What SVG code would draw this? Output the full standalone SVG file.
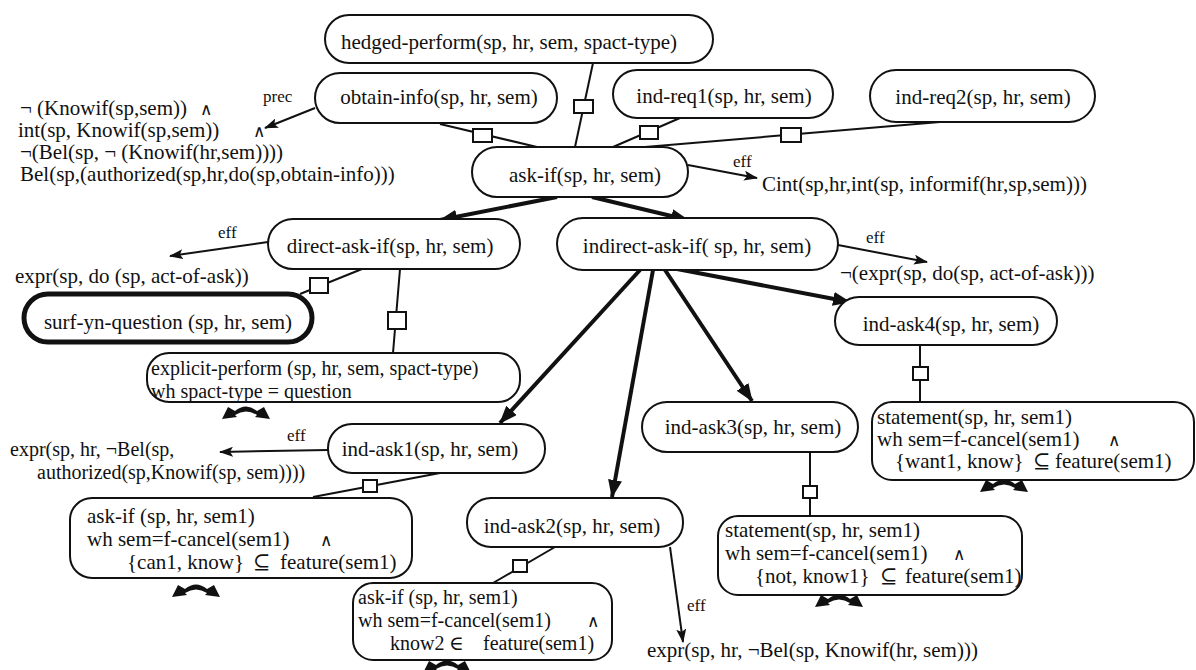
<svg xmlns="http://www.w3.org/2000/svg" width="1196" height="670" viewBox="0 0 1196 670">
<style>
text{font-family:"Liberation Serif","DejaVu Serif",serif;font-size:21px;fill:#111}
.c{text-anchor:middle}
.lbl{font-size:17px}
.sm{font-size:20px}
.op{font-family:"DejaVu Sans",sans-serif;font-size:17px;font-weight:normal}
.box{fill:#fff;stroke:#111;stroke-width:2}
.bold{stroke-width:5}
.ln{fill:none;stroke:#111;stroke-width:2}
.thick{fill:none;stroke:#111;stroke-width:4;marker-end:url(#ah)}
.thin{fill:none;stroke:#111;stroke-width:2;marker-end:url(#ahs)}
.sq{fill:#fff;stroke:#111;stroke-width:2}
</style>
<defs>
<marker id="ah" viewBox="0 0 18 14" refX="17" refY="7" markerWidth="18" markerHeight="14" markerUnits="userSpaceOnUse" orient="auto"><path d="M0,0 L18,7 L0,14 z" fill="#111"/></marker>
<marker id="ahs" viewBox="0 0 14 10" refX="13" refY="5" markerWidth="14" markerHeight="10" markerUnits="userSpaceOnUse" orient="auto"><path d="M0,0 L14,5 L0,10 L3,5 z" fill="#111"/></marker>
<path id="bow" d="M0,14 L6,2 L13,6 Q24,-3 35,6 L42,2 L48,14 L33,12 L35,10 Q24,3 13,10 L15,12 Z" fill="#111"/>
</defs>
<rect width="1196" height="670" fill="#fff"/>

<g id="connectors">
<line class="ln" x1="593" y1="63" x2="575" y2="147"/>
<rect class="sq" x="574" y="100" width="19" height="13"/>
<line class="ln" x1="440" y1="124" x2="537" y2="147"/>
<rect class="sq" x="473" y="129" width="19" height="13"/>
<line class="ln" x1="680" y1="118" x2="613" y2="147"/>
<rect class="sq" x="640" y="126" width="18" height="13"/>
<line class="ln" x1="940" y1="122" x2="633" y2="148"/>
<rect class="sq" x="781" y="128" width="20" height="14"/>
<line class="thick" x1="557" y1="197" x2="440" y2="220"/>
<line class="thick" x1="592" y1="197" x2="688" y2="220"/>
<line class="thin" x1="688" y1="165" x2="757" y2="178"/>
<text class="lbl" x="733" y="167">eff</text>
<line class="thin" x1="315" y1="108" x2="265" y2="128"/>
<text class="lbl" x="263" y="102">prec</text>
<line class="thin" x1="268" y1="242" x2="170" y2="256"/>
<text class="lbl" x="218" y="238">eff</text>
<line class="ln" x1="362" y1="269" x2="300" y2="294"/>
<rect class="sq" x="310" y="278" width="18" height="15"/>
<line class="ln" x1="400" y1="269" x2="393" y2="353"/>
<rect class="sq" x="388" y="312" width="18" height="17"/>
<line class="thin" x1="838" y1="245" x2="927" y2="262"/>
<text class="lbl" x="866" y="243">eff</text>
<line class="thick" x1="677" y1="269" x2="850" y2="302"/>
<line class="thick" x1="665" y1="270" x2="752" y2="401"/>
<line class="thick" x1="653" y1="270" x2="612" y2="497"/>
<line class="thick" x1="640" y1="270" x2="500" y2="423"/>
<line class="ln" x1="920" y1="345" x2="920" y2="402"/>
<rect class="sq" x="913" y="367" width="15" height="13"/>
<line class="ln" x1="810" y1="452" x2="810" y2="516"/>
<rect class="sq" x="803" y="486" width="14" height="12"/>
<line class="thin" x1="328" y1="450" x2="220" y2="452"/>
<text class="lbl" x="287" y="441">eff</text>
<line class="ln" x1="440" y1="473" x2="313" y2="497"/>
<rect class="sq" x="363" y="480" width="14" height="12"/>
<line class="ln" x1="555" y1="547" x2="493" y2="583"/>
<rect class="sq" x="513" y="560" width="14" height="12"/>
<line class="thin" x1="670" y1="547" x2="683" y2="642"/>
<text class="lbl" x="687" y="611">eff</text>
</g>

<g id="prec-text">
<text x="20" y="115">¬ (Knowif(sp,sem))<tspan class="op" x="200">∧</tspan></text>
<text x="18" y="137">int(sp, Knowif(sp,sem))<tspan class="op" x="253">∧</tspan></text>
<text x="20" y="159">¬(Bel(sp, ¬ (Knowif(hr,sem))))</text>
<text x="20" y="181">Bel(sp,(authorized(sp,hr,do(sp,obtain-info)))</text>
</g>
<g id="eff-texts">
<text x="762" y="191">Cint(sp,hr,int(sp, informif(hr,sp,sem)))</text>
<text x="15" y="283">expr(sp, do (sp,  act-of-ask))</text>
<text x="840" y="280">¬(expr(sp, do(sp, act-of-ask)))</text>
<text class="sm" x="10" y="456">expr(sp, hr,  ¬Bel(sp,</text>
<text class="sm" x="37" y="479">authorized(sp,Knowif(sp, sem))))</text>
<text x="647" y="657">expr(sp, hr,   ¬Bel(sp, Knowif(hr, sem)))</text>
</g>

<g id="hedged-perform"><rect class="box" x="325" y="15" width="388" height="48" rx="24"/><text class="c" x="509" y="49">hedged-perform(sp, hr, sem, spact-type)</text></g>
<g id="obtain-info"><rect class="box" x="315" y="73" width="242" height="50" rx="25"/><text class="c" x="439" y="104">obtain-info(sp, hr, sem)</text></g>
<g id="ind-req1"><rect class="box" x="613" y="70" width="220" height="48" rx="24"/><text class="c" x="724" y="103">ind-req1(sp, hr, sem)</text></g>
<g id="ind-req2"><rect class="box" x="870" y="70" width="225" height="52" rx="26"/><text class="c" x="983" y="104">ind-req2(sp, hr, sem)</text></g>
<g id="ask-if"><rect class="box" x="472" y="147" width="216" height="50" rx="25"/><text class="c" x="585" y="182">ask-if(sp, hr, sem)</text></g>
<g id="direct-ask-if"><rect class="box" x="268" y="219" width="252" height="50" rx="25"/><text class="c" x="390" y="253">direct-ask-if(sp, hr, sem)</text></g>
<g id="indirect-ask-if"><rect class="box" x="557" y="218" width="281" height="52" rx="26"/><text class="c" x="697" y="253">indirect-ask-if( sp, hr, sem)</text></g>
<g id="surf-yn-question"><rect class="box bold" x="24" y="294" width="288" height="48" rx="24"/><text class="c" x="168" y="329">surf-yn-question (sp, hr, sem)</text></g>
<g id="explicit-perform"><rect class="box" x="147" y="353" width="373" height="49" rx="22"/><text class="sm" x="151" y="375">explicit-perform (sp, hr, sem, spact-type)</text><text class="sm" x="151" y="398">wh spact-type = question</text><use href="#bow" x="222" y="405"/></g>
<g id="ind-ask4"><rect class="box" x="835" y="297" width="222" height="48" rx="24"/><text class="c" x="951" y="331">ind-ask4(sp, hr, sem)</text></g>
<g id="ind-ask3"><rect class="box" x="642" y="402" width="216" height="50" rx="25"/><text class="c" x="753" y="434">ind-ask3(sp, hr, sem)</text></g>
<g id="statement-want"><rect class="box" x="872" y="402" width="322" height="78" rx="20"/><text x="877" y="424">statement(sp, hr, sem1)</text><text x="877" y="446">wh sem=f-cancel(sem1)<tspan class="op" x="1108">∧</tspan></text><text x="895" y="468">{want1, know}<tspan x="1033">⊆</tspan><tspan x="1055">feature(sem1)</tspan></text><use href="#bow" x="980" y="478"/></g>
<g id="ind-ask1"><rect class="box" x="328" y="424" width="217" height="49" rx="24"/><text class="c" x="430" y="456">ind-ask1(sp, hr, sem)</text></g>
<g id="ask-if-sem1-a"><rect class="box" x="70" y="498" width="342" height="80" rx="22"/><text x="87" y="523">ask-if (sp, hr, sem1)</text><text x="87" y="546">wh sem=f-cancel(sem1)<tspan class="op" x="320">∧</tspan></text><text x="127" y="569">{can1, know}<tspan x="253">⊆</tspan><tspan x="280">feature(sem1)</tspan></text><use href="#bow" x="172" y="583"/></g>
<g id="ind-ask2"><rect class="box" x="467" y="498" width="216" height="49" rx="24"/><text class="c" x="572" y="533">ind-ask2(sp, hr, sem)</text></g>
<g id="ask-if-sem1-b"><rect class="box" x="353" y="583" width="259" height="77" rx="20"/><text class="sm" x="358" y="604">ask-if (sp, hr, sem1)</text><text class="sm" x="358" y="627">wh sem=f-cancel(sem1)<tspan class="op" x="587">∧</tspan></text><text class="sm" x="390" y="650">know2<tspan x="449">∈</tspan><tspan x="483">feature(sem1)</tspan></text><use href="#bow" x="423" y="659"/></g>
<g id="statement-not"><rect class="box" x="718" y="516" width="304" height="79" rx="20"/><text x="725" y="537">statement(sp, hr, sem1)</text><text x="725" y="560">wh sem=f-cancel(sem1)<tspan class="op" x="953">∧</tspan></text><text x="755" y="583">{not, know1}<tspan x="880">⊆</tspan><tspan x="905">feature(sem1)</tspan></text><use href="#bow" x="815" y="593"/></g>
</svg>
